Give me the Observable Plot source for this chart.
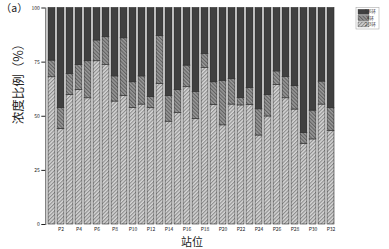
<!DOCTYPE html>
<html><head><meta charset="utf-8">
<script src="https://cdn.jsdelivr.net/npm/d3@7"></script>
<script src="https://cdn.jsdelivr.net/npm/@observablehq/plot@0.6"></script>
<style>
body{margin:0;background:#fff;font-family:"Noto Sans CJK SC","Noto Sans",sans-serif;}
#wrap{position:relative;width:389px;height:249px;}
#defs{position:absolute;width:0;height:0;overflow:hidden;}
</style></head><body>
<svg id="defs" width="0" height="0">
  <defs>
    <pattern id="p23" patternUnits="userSpaceOnUse" width="2.6" height="2.6" patternTransform="rotate(45)">
      <rect width="2.6" height="2.6" fill="#d6d6d6"/>
      <line x1="0.6" y1="0" x2="0.6" y2="2.6" stroke="#7c7c7c" stroke-width="0.9"/>
    </pattern>
    <pattern id="p4" patternUnits="userSpaceOnUse" width="2.6" height="2.6" patternTransform="rotate(-45)">
      <rect width="2.6" height="2.6" fill="#999"/>
      <line x1="0.6" y1="0" x2="0.6" y2="2.6" stroke="#555" stroke-width="0.9"/>
    </pattern>
  </defs>
</svg>
<div id="wrap"></div>
<script>
const stations = ["P1","P2","P3","P4","P5","P6","P7","P8","P9","P10","P11","P12","P13","P14","P15","P16",
  "P17","P18","P19","P20","P21","P22","P23","P24","P25","P26","P27","P28","P29","P30","P31","P32"];
const ring23 = [68.0,44.2,59.9,62.2,58.3,75.4,73.6,56.8,59.3,53.9,55.4,53.7,65.0,47.5,51.4,63.4,
  48.8,72.2,55.3,45.8,55.4,55.0,55.3,41.1,49.9,64.5,58.3,53.1,37.3,39.3,55.4,43.1];
const ring4 = [7.7,9.7,9.7,11.4,17.1,9.6,12.9,11.6,26.7,11.8,13.0,5.1,22.0,11.8,10.8,10.0,
  12.5,6.6,10.4,20.6,11.7,3.5,7.7,12.1,10.0,6.2,9.9,10.8,5.0,13.3,10.6,10.6];
const ring56 = [24.3,46.1,30.4,26.4,24.6,15.0,13.5,31.6,14.0,34.3,31.6,41.2,13.0,40.7,37.8,26.6,
  38.7,21.2,34.3,33.6,32.9,41.5,37.0,46.8,40.1,29.3,31.8,36.1,57.7,47.4,34.0,46.3];
const groups = ["2-3环","4环","5-6环"];
const groupFills = ["url(#p23)","url(#p4)","#404040"];
const yTicks = [0,25,50,75,100];
const xTicks = ["P2","P4","P6","P8","P10","P12","P14","P16","P18","P20","P22","P24","P26","P28","P30","P32"];
const yTitle = "浓度比例（%）";
const xTitle = "站位";
const panel = "（a）";

const series = [ring23, ring4, ring56];
const data = [];
stations.forEach((s, i) => groups.forEach((g, j) => data.push({station: s, ring: g, value: series[j][i]})));

const cjk = '"Noto Sans CJK SC","Noto Sans",sans-serif';
const chart = Plot.plot({
  width: 389, height: 249,
  marginLeft: 45.3, marginRight: 51.5, marginTop: 7.5, marginBottom: 25,
  style: {fontFamily: cjk, background: "transparent", color: "#222"},
  x: {domain: stations, paddingInner: 0.18, paddingOuter: 0.09, label: null},
  y: {domain: [0, 100], label: null},
  color: {domain: groups, range: groupFills},
  marks: [
    Plot.barY(data, {x: "station", y: "value", fill: "ring", stroke: "#2a2a2a", strokeWidth: 0.6}),
    Plot.frame({anchor: "left", stroke: "#222", strokeWidth: 0.8}),
    Plot.axisY({ticks: yTicks, tickSize: 4, tickPadding: 2, fontSize: 5, label: null}),
    Plot.axisX({ticks: xTicks, tickSize: 0, tickPadding: 3, fontSize: 5, label: null}),
    Plot.text([yTitle], {frameAnchor: "left", dx: -27, dy: 8, rotate: -90, fontSize: 12.5, fill: "#222", fontFamily: cjk}),
    Plot.text([xTitle], {frameAnchor: "bottom", dy: 18, lineAnchor: "middle", fontSize: 11, fill: "#222", fontFamily: cjk}),
    Plot.text([panel], {frameAnchor: "top-left", dx: -45, dy: 1, lineAnchor: "middle", fontSize: 10.5, textAnchor: "start", fill: "#222", fontFamily: cjk})
  ]
});
document.getElementById("wrap").appendChild(chart);

// legend
const svg = d3.select(chart);
const lg = svg.append("g").attr("transform", "translate(356,7.3)");
lg.append("rect").attr("width", 23).attr("height", 21.7).attr("fill", "#fff").attr("stroke", "#aaa").attr("stroke-width", 0.6);
const legendOrder = [2, 1, 0];
legendOrder.forEach((gi, k) => {
  const row = lg.append("g").attr("transform", `translate(2,${2 + k * 6.3})`);
  row.append("rect").attr("width", 11).attr("height", 5).attr("fill", groupFills[gi]).attr("stroke", "#444").attr("stroke-width", 0.4);
  row.append("text").attr("x", 12.5).attr("y", 4).attr("font-size", 4.5).attr("fill", "#333").text(groups[gi]);
});
</script>
</body></html>
